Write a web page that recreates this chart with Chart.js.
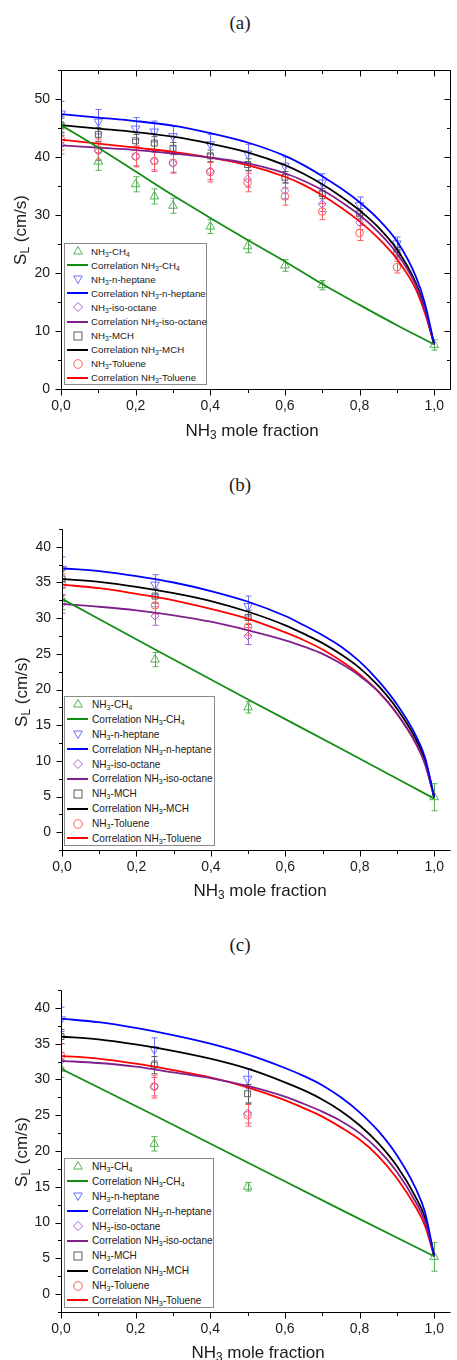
<!DOCTYPE html>
<html>
<head>
<meta charset="utf-8">
<script src="https://cdn.jsdelivr.net/npm/chart.js@4.4.1/dist/chart.umd.min.js"></script>
<style>
  body { margin: 0; background: #fff; }
  #page { position: relative; width: 457px; height: 1360px; overflow: hidden; font-family: 'Liberation Sans', Arial, sans-serif; color: #1a1a1a; }
  canvas { position: absolute; left: 0; }
  .ptitle { position: absolute; font-family: 'Liberation Serif', 'Times New Roman', serif; font-size: 19px; transform: translate(-50%, -50%); }
  .xtitle { position: absolute; font-size: 17px; transform: translate(-50%, -50%); white-space: nowrap; }
  .ytitle { position: absolute; font-size: 17px; transform: translate(-50%, -50%) rotate(-90deg); white-space: nowrap; }
  sub { font-size: 70%; vertical-align: -0.25em; line-height: 0; }
  .legend { position: absolute; border: 1px solid #8a8a8a; background: #fff; box-sizing: border-box; }
  .legend .row { display: flex; align-items: center; white-space: nowrap; }
  .legend svg { flex: none; }
</style>
</head>
<body>
<div id="page">
  <canvas id="chartA" width="457" height="385" style="top:40px"></canvas>
  <canvas id="chartB" width="457" height="390" style="top:500px"></canvas>
  <canvas id="chartC" width="457" height="400" style="top:960px"></canvas>
</div>
<script>
// ---- tick labels ----
const xTicks = [0, 0.2, 0.4, 0.6, 0.8, 1.0];
const yTicksA = [0, 10, 20, 30, 40, 50];
const yTicksBC = [0, 5, 10, 15, 20, 25, 30, 35, 40];

// ---- measured points: x positions ----
const xA_fuel = [0, 0.1, 0.2, 0.25, 0.3, 0.4, 0.5, 0.6, 0.7, 0.8, 0.9];
const xA_ch4 = [0, 0.1, 0.2, 0.25, 0.3, 0.4, 0.5, 0.6, 0.7, 1.0];
const xBC_fuel = [0, 0.25, 0.5];
const xBC_ch4 = [0, 0.25, 0.5, 1.0];

// ---- panel (a) points ----
const aCH4 = [45.5, 39.2, 35.3, 33.2, 31.6, 28.0, 24.6, 21.3, 17.9, 7.6];
const aCH4Err = [1.5, 1.5, 1.3, 1.3, 1.3, 1.2, 1.1, 1.0, 0.8, 0.9];
const aHeptane = [47.5, 46.1, 44.9, 44.4, 43.6, 42.2, 40.6, 38.5, 35.6, 31.7, 25.1];
const aHeptaneErr = [2.1, 2.1, 1.9, 1.8, 1.7, 1.7, 1.6, 1.5, 1.5, 1.4, 1.1];
const aIso = [42.1, 41.0, 40.1, 39.3, 38.9, 37.6, 36.2, 34.2, 31.9, 28.7, 23.4];
const aIsoErr = [1.6, 1.6, 1.6, 1.5, 1.5, 1.5, 1.4, 1.4, 1.3, 1.2, 1.0];
const aMCH = [45.5, 43.9, 42.8, 42.4, 41.5, 40.2, 38.7, 36.5, 33.7, 30.2, 23.6];
const aMCHErr = [1.2, 1.2, 1.1, 1.1, 1.0, 1.0, 1.0, 1.0, 0.9, 0.9, 0.8];
const aTol = [43.0, 41.3, 40.1, 39.3, 39.0, 37.4, 35.6, 33.2, 30.6, 26.9, 21.0];
const aTolErr = [1.8, 1.8, 1.8, 1.8, 1.8, 1.7, 1.6, 1.5, 1.4, 1.3, 1.0];

// ---- panel (b) points ----
const bCH4 = [32.7, 24.2, 17.5, 4.9];
const bCH4Err = [1.5, 1.0, 0.8, 1.9];
const bHeptane = [36.9, 34.7, 31.7];
const bHeptaneErr = [1.7, 1.4, 1.4];
const bIso = [32.0, 30.3, 27.5];
const bIsoErr = [1.3, 1.3, 1.2];
const bMCH = [35.5, 33.1, 30.1];
const bMCHErr = [1.2, 1.0, 1.0];
const bTol = [34.7, 31.8, 28.8];
const bTolErr = [1.5, 1.2, 1.2];

// ---- panel (c) points ----
const cCH4 = [31.5, 21.0, 15.0, 5.2];
const cCH4Err = [1.2, 1.0, 0.6, 2.0];
const cHeptane = [38.4, 34.2, 30.1];
const cHeptaneErr = [1.7, 1.6, 1.4];
const cIso = [32.6, 29.0, 25.3];
const cIsoErr = [1.2, 1.3, 1.4];
const cMCH = [36.0, 32.0, 28.0];
const cMCHErr = [1.0, 1.2, 1.3];
const cTol = [33.3, 29.0, 25.0];
const cTolErr = [1.7, 1.6, 1.5];

// ---- correlation curves ----
const curveX = [0, 0.1, 0.2, 0.3, 0.4, 0.5, 0.6, 0.65, 0.7, 0.75, 0.8, 0.85, 0.9, 0.95, 0.975, 1.0];
const ch4LineXA = [0, 0.1, 0.2, 0.3, 0.4, 0.5, 0.6, 0.7, 0.8, 0.9, 1.0];
const ch4LineXBC = [0, 0.25, 0.5, 0.75, 1.0];

const aCH4Corr = [45.5, 41.6, 37.5, 33.4, 29.5, 25.7, 22.0, 18.1, 14.5, 11.0, 7.7];
const aHeptaneCorr = [47.4, 46.8, 46.2, 45.4, 44.1, 42.5, 40.2, 38.6, 36.7, 34.6, 32.2, 29.3, 25.5, 19.5, 14.8, 7.7];
const aIsoCorr = [42.0, 41.6, 41.2, 40.6, 39.9, 38.9, 37.2, 35.9, 34.3, 32.3, 30.0, 27.1, 23.4, 18.0, 13.6, 7.7];
const aMCHCorr = [45.5, 44.9, 44.3, 43.5, 42.3, 40.8, 38.6, 37.1, 35.3, 33.2, 30.8, 27.9, 24.1, 18.4, 13.9, 7.7];
const aTolCorr = [43.0, 42.3, 41.6, 40.9, 39.9, 38.6, 36.6, 35.2, 33.4, 31.3, 28.9, 26.0, 22.4, 17.3, 13.1, 7.7];

const bCH4Corr = [32.7, 25.6, 18.6, 11.7, 4.7];
const bHeptaneCorr = [37.0, 36.6, 35.9, 35.0, 33.8, 32.3, 30.3, 29.0, 27.6, 26.0, 23.9, 21.2, 17.9, 13.6, 10.5, 4.9];
const bIsoCorr = [32.0, 31.6, 31.1, 30.4, 29.5, 28.3, 26.9, 26.0, 25.0, 23.6, 21.9, 19.7, 16.6, 12.5, 9.6, 4.9];
const bMCHCorr = [35.5, 35.1, 34.4, 33.5, 32.4, 30.9, 29.0, 27.8, 26.5, 24.9, 23.0, 20.5, 17.3, 13.1, 10.1, 4.9];
const bTolCorr = [34.7, 34.2, 33.4, 32.5, 31.3, 29.9, 28.0, 26.9, 25.6, 24.0, 22.1, 19.7, 16.6, 12.5, 9.6, 4.9];

const cCH4Corr = [31.5, 25.0, 18.4, 11.8, 5.3];
const cHeptaneCorr = [38.5, 38.0, 37.2, 36.2, 35.0, 33.5, 31.6, 30.5, 29.2, 27.5, 25.4, 22.8, 19.4, 14.8, 11.5, 5.3];
const cIsoCorr = [32.6, 32.3, 31.8, 31.0, 30.2, 29.1, 27.6, 26.6, 25.5, 24.2, 22.5, 20.2, 17.1, 12.9, 10.2, 5.3];
const cMCHCorr = [36.0, 35.6, 34.9, 34.0, 32.9, 31.5, 29.6, 28.5, 27.2, 25.6, 23.6, 21.1, 17.9, 13.6, 10.7, 5.3];
const cTolCorr = [33.3, 32.9, 32.2, 31.3, 30.3, 28.9, 27.1, 26.0, 24.8, 23.3, 21.6, 19.3, 16.2, 12.2, 9.6, 5.3];

// ---- series styles ----
const styles = {
  ch4:     { name: 'CH<sub>4</sub>', mark: '#55b255', line: '#148c14', shape: 'triangle', radius: 5,   rotation: 0 },
  heptane: { name: 'n-heptane',      mark: '#6e6eff', line: '#0000ff', shape: 'triangle', radius: 5,   rotation: 180 },
  iso:     { name: 'iso-octane',     mark: '#a862d4', line: '#80208c', shape: 'rectRot',  radius: 4,   rotation: 0 },
  mch:     { name: 'MCH',            mark: '#5a5a5a', line: '#000000', shape: 'rect',     radius: 4.2, rotation: 0 },
  tol:     { name: 'Toluene',        mark: '#ff5c5c', line: '#ff0000', shape: 'circle',   radius: 3.8, rotation: 0 }
};
const legendOrder = ['ch4', 'heptane', 'iso', 'mch', 'tol'];

const pts = (xs, ys) => xs.map((x, i) => ({ x: x, y: ys[i] }));

function markerSet(key, xs, ys, errs) {
  const s = styles[key];
  return {
    data: pts(xs, ys), errors: errs, showLine: false,
    pointStyle: s.shape, pointRadius: s.radius, pointRotation: s.rotation,
    borderColor: s.mark, backgroundColor: 'rgba(0,0,0,0)', pointBorderWidth: 1, order: 2
  };
}
function lineSet(key, xs, ys) {
  const s = styles[key];
  return {
    data: pts(xs, ys), showLine: true, pointRadius: 0, borderColor: s.line, borderWidth: 1.8,
    cubicInterpolationMode: 'monotone', fill: false, order: 1
  };
}

// error bars drawn from the dataset's errors array
const errorBars = {
  id: 'errorBars',
  beforeDatasetsDraw(chart) {
    const { ctx, chartArea: a, scales: { x, y } } = chart;
    ctx.save();
    ctx.beginPath(); ctx.rect(a.left, a.top - 6, a.right - a.left + 6, a.bottom - a.top + 12); ctx.clip();
    chart.data.datasets.forEach(ds => {
      if (!ds.errors) return;
      ctx.strokeStyle = ds.borderColor; ctx.lineWidth = 1;
      ds.data.forEach((p, j) => {
        const e = ds.errors[j];
        const px = Math.round(x.getPixelForValue(p.x)) + 0.5;
        const y1 = y.getPixelForValue(p.y + e), y2 = y.getPixelForValue(p.y - e);
        ctx.beginPath();
        ctx.moveTo(px, y1); ctx.lineTo(px, y2);
        ctx.moveTo(px - 3, y1); ctx.lineTo(px + 3, y1);
        ctx.moveTo(px - 3, y2); ctx.lineTo(px + 3, y2);
        ctx.stroke();
      });
    });
    ctx.restore();
  }
};

// Origin style axis lines with major/minor ticks
const originAxes = {
  id: 'originAxes',
  afterDraw(chart, args, o) {
    const { ctx, chartArea: a, scales: { x, y } } = chart;
    const L = Math.round(a.left) + 0.5, R = Math.round(a.right) - 0.5;
    const T = Math.round(a.top) + 0.5, B = Math.round(a.bottom) + 0.5;
    ctx.save();
    ctx.strokeStyle = '#000'; ctx.lineWidth = 1;
    ctx.beginPath();
    ctx.moveTo(L, T); ctx.lineTo(L, B); ctx.lineTo(R, B);
    if (o.box) { ctx.lineTo(R, T); ctx.lineTo(L, T); }
    ctx.stroke();
    ctx.beginPath();
    for (let i = 0; i <= 10; i++) {
      const px = Math.round(x.getPixelForValue(i / 10)) + 0.5;
      const len = i % 2 === 0 ? 6 : 3.5;
      ctx.moveTo(px, B); ctx.lineTo(px, B + len);
      if (o.box) { ctx.moveTo(px, T); ctx.lineTo(px, T + len); }
    }
    const n = Math.round((o.yTop - o.yStart) / o.yMinor);
    for (let i = 0; i <= n; i++) {
      const v = o.yStart + i * o.yMinor;
      const py = Math.round(y.getPixelForValue(v)) + 0.5;
      const major = Math.abs(v / o.yMajor - Math.round(v / o.yMajor)) < 1e-6;
      const len = major ? 6 : 3.5;
      ctx.moveTo(L, py); ctx.lineTo(L - len, py);
      if (o.box) { ctx.moveTo(R, py); ctx.lineTo(R - len, py); }
    }
    ctx.stroke();
    ctx.restore();
  }
};

const tickFont = { family: "'Liberation Sans', Arial, sans-serif", size: 14 };

function makePanel(p) {
  return new Chart(document.getElementById(p.id), {
    type: 'scatter',
    data: { datasets: p.datasets },
    options: {
      responsive: false, animation: false, events: [],
      layout: { padding: { top: p.padTop, right: p.padRight, left: 0, bottom: 0 } },
      plugins: {
        legend: { display: false }, tooltip: { enabled: false },
        originAxes: { box: p.box, yStart: p.yStart, yTop: p.yTop, yMinor: p.yMinor, yMajor: p.yMajor }
      },
      scales: {
        x: {
          type: 'linear', min: 0, max: 1.045,
          grid: { display: false, drawTicks: false }, border: { display: false },
          afterBuildTicks: s => { s.ticks = xTicks.map(v => ({ value: v })); },
          afterFit: s => { s.height = p.xH; },
          ticks: { font: tickFont, color: '#1a1a1a', padding: 9, maxRotation: 0,
                   callback: v => v.toFixed(1).replace('.', ',') }
        },
        y: {
          type: 'linear', min: p.yMin, max: p.yMax,
          grid: { display: false, drawTicks: false }, border: { display: false },
          afterBuildTicks: s => { s.ticks = p.yTicks.map(v => ({ value: v })); },
          afterFit: s => { s.width = p.yW; },
          ticks: { font: tickFont, color: '#1a1a1a', padding: 11 }
        }
      }
    },
    plugins: [errorBars, originAxes]
  });
}

makePanel({
  id: 'chartA', padTop: 30, padRight: 1, xH: 36, yW: 61, yMin: 0, yMax: 55, yTicks: yTicksA,
  box: true, yStart: 0, yTop: 55, yMinor: 5, yMajor: 10,
  datasets: [
    lineSet('ch4', ch4LineXA, aCH4Corr), lineSet('heptane', curveX, aHeptaneCorr),
    lineSet('iso', curveX, aIsoCorr), lineSet('mch', curveX, aMCHCorr), lineSet('tol', curveX, aTolCorr),
    markerSet('ch4', xA_ch4, aCH4, aCH4Err), markerSet('heptane', xA_fuel, aHeptane, aHeptaneErr),
    markerSet('iso', xA_fuel, aIso, aIsoErr), markerSet('mch', xA_fuel, aMCH, aMCHErr),
    markerSet('tol', xA_fuel, aTol, aTolErr)
  ]
});
makePanel({
  id: 'chartB', padTop: 29, padRight: 0, xH: 40, yW: 62, yMin: -2.5, yMax: 42.5, yTicks: yTicksBC,
  box: false, yStart: -2.5, yTop: 42.5, yMinor: 2.5, yMajor: 5,
  datasets: [
    lineSet('ch4', ch4LineXBC, bCH4Corr), lineSet('heptane', curveX, bHeptaneCorr),
    lineSet('iso', curveX, bIsoCorr), lineSet('mch', curveX, bMCHCorr), lineSet('tol', curveX, bTolCorr),
    markerSet('ch4', xBC_ch4, bCH4, bCH4Err), markerSet('heptane', xBC_fuel, bHeptane, bHeptaneErr),
    markerSet('iso', xBC_fuel, bIso, bIsoErr), markerSet('mch', xBC_fuel, bMCH, bMCHErr),
    markerSet('tol', xBC_fuel, bTol, bTolErr)
  ]
});
makePanel({
  id: 'chartC', padTop: 30, padRight: 0, xH: 48, yW: 61, yMin: -2.5, yMax: 42.5, yTicks: yTicksBC,
  box: false, yStart: -2.5, yTop: 42.5, yMinor: 2.5, yMajor: 5,
  datasets: [
    lineSet('ch4', ch4LineXBC, cCH4Corr), lineSet('heptane', curveX, cHeptaneCorr),
    lineSet('iso', curveX, cIsoCorr), lineSet('mch', curveX, cMCHCorr), lineSet('tol', curveX, cTolCorr),
    markerSet('ch4', xBC_ch4, cCH4, cCH4Err), markerSet('heptane', xBC_fuel, cHeptane, cHeptaneErr),
    markerSet('iso', xBC_fuel, cIso, cIsoErr), markerSet('mch', xBC_fuel, cMCH, cMCHErr),
    markerSet('tol', xBC_fuel, cTol, cTolErr)
  ]
});

// ---- titles and legends (HTML, for the subscripts) ----
const page = document.getElementById('page');
function addText(cls, html, x, y) {
  const d = document.createElement('div');
  d.className = cls; d.innerHTML = html;
  d.style.left = x + 'px'; d.style.top = y + 'px';
  page.appendChild(d);
}
function markerSvg(s) {
  const c = s.mark;
  let shape = '';
  if (s.shape === 'triangle' && s.rotation === 0) shape = `<polygon points="12,2.5 16.3,10 7.7,10" fill="none" stroke="${c}"/>`;
  else if (s.shape === 'triangle') shape = `<polygon points="12,11.5 16.3,4 7.7,4" fill="none" stroke="${c}"/>`;
  else if (s.shape === 'rectRot') shape = `<polygon points="12,2.5 16.5,7 12,11.5 7.5,7" fill="none" stroke="${c}"/>`;
  else if (s.shape === 'rect') shape = `<rect x="8" y="3" width="8" height="8" fill="none" stroke="${c}"/>`;
  else shape = `<circle cx="12" cy="7" r="4.3" fill="none" stroke="${c}"/>`;
  return `<svg width="26" height="14" viewBox="0 0 24 14">${shape}</svg>`;
}
function lineSvg(s) {
  return `<svg width="26" height="14" viewBox="0 0 24 14"><line x1="1" y1="7" x2="22" y2="7" stroke="${s.line}" stroke-width="2"/></svg>`;
}
function addLegend(left, top, width, rowH, fontSize, gap) {
  const box = document.createElement('div');
  box.className = 'legend';
  box.style.left = left + 'px'; box.style.top = top + 'px';
  box.style.width = width + 'px'; box.style.height = (rowH * 10 + 1) + 'px';
  box.style.fontSize = fontSize + 'px';
  legendOrder.forEach(k => {
    const s = styles[k];
    const lbl = 'NH<sub>3</sub>-' + s.name;
    box.innerHTML += `<div class="row" style="height:${rowH}px">${markerSvg(s)}<span style="margin-left:${gap}px">${lbl}</span></div>`;
    box.innerHTML += `<div class="row" style="height:${rowH}px">${lineSvg(s)}<span style="margin-left:${gap}px">Correlation ${lbl}</span></div>`;
  });
  page.appendChild(box);
}

addText('ptitle', '(a)', 240, 23);
addText('ptitle', '(b)', 240, 485);
addText('ptitle', '(c)', 240, 945);
addText('xtitle', 'NH<sub>3</sub> mole fraction', 252, 431);
addText('xtitle', 'NH<sub>3</sub> mole fraction', 260, 891);
addText('xtitle', 'NH<sub>3</sub> mole fraction', 258, 1353);
addText('ytitle', 'S<sub>L</sub> (cm/s)', 21, 230);
addText('ytitle', 'S<sub>L</sub> (cm/s)', 22, 692);
addText('ytitle', 'S<sub>L</sub> (cm/s)', 22, 1152);
addLegend(64, 243, 143, 14.1, 9.7, 0);
addLegend(64, 696, 151, 14.9, 10.1, 1);
addLegend(64, 1158, 150, 14.9, 10.1, 1);
</script>
</body>
</html>
